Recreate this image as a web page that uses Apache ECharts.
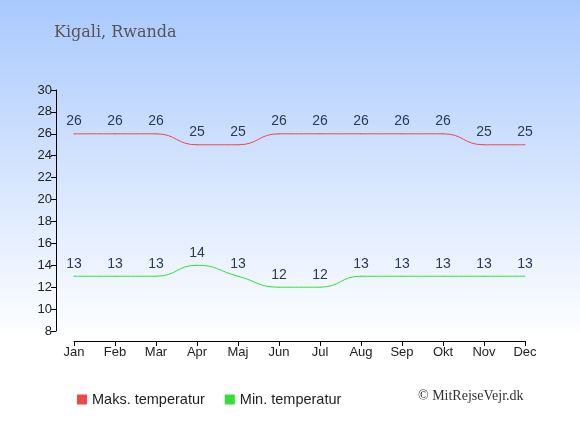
<!DOCTYPE html>
<html><head><meta charset="utf-8">
<script src="https://cdn.jsdelivr.net/npm/echarts@6/dist/echarts.min.js"></script>
<style>html,body{margin:0;padding:0;}#c{width:580px;height:435px;}</style>
</head><body><div id="c"></div>
<script>
var months = ['Jan','Feb','Mar','Apr','Maj','Jun','Jul','Aug','Sep','Okt','Nov','Dec'];
var maxTemp = [26,26,26,25,25,26,26,26,26,26,25,25];
var minTemp = [13,13,13,14,13,12,12,13,13,13,13,13];
var yTicks = [8,10,12,14,16,18,20,22,24,26,28,30];

var chart = echarts.init(document.getElementById('c'));
var labelStyle = {show:true, position:'top', distance:5, color:'#2a3a5a', fontSize:14, fontFamily:'Liberation Sans, Arial, sans-serif'};
chart.setOption({
  backgroundColor: {type:'linear', x:0, y:0, x2:0, y2:1, colorStops:[
    {offset:0, color:'#a9c9fd'}, {offset:0.78, color:'#ffffff'}, {offset:1, color:'#ffffff'}]},
  animation:false,
  title:{text:'Kigali, Rwanda', left:49, top:20, textStyle:{fontFamily:'DejaVu Serif, serif', fontWeight:'normal', fontSize:16, color:'#555555'}},
  grid:{left:74, right:55, top:90, bottom:104, containLabel:false},
  legend:{top:387, left:72, itemWidth:10, itemHeight:10, itemGap:20, icon:'rect',
    textStyle:{fontFamily:'Liberation Sans, Arial, sans-serif', fontSize:14.5, color:'#222'},
    data:['Maks. temperatur','Min. temperatur']},
  graphic:[{type:'text', left:418, top:389, style:{text:'© MitRejseVejr.dk', fontFamily:'Liberation Serif, serif', fontSize:14, fill:'#333'}}],
  xAxis:{type:'category', data:months, boundaryGap:false, offset:10,
    axisLine:{lineStyle:{color:'#000'}}, axisTick:{alignWithLabel:true, length:5, lineStyle:{color:'#000'}},
    axisLabel:{color:'#222', fontSize:13, fontFamily:'Liberation Sans, Arial, sans-serif', margin:5}},
  yAxis:{type:'value', min:8, max:30, interval:2, offset:18,
    axisLine:{show:true, lineStyle:{color:'#000'}}, axisTick:{show:true, length:5, lineStyle:{color:'#000'}},
    splitLine:{show:false},
    axisLabel:{color:'#222', fontSize:13, fontFamily:'Liberation Sans, Arial, sans-serif', margin:4,
      formatter:function(v){return yTicks.indexOf(v)>=0? String(v):'';}}},
  series:[
    {name:'Maks. temperatur', type:'line', data:maxTemp, smooth:0.5, symbol:'circle', symbolSize:1, showSymbol:true,
      color:'#f04848', itemStyle:{color:'#f04848'},
      lineStyle:{width:1, color:'#f04848'}, label:labelStyle},
    {name:'Min. temperatur', type:'line', data:minTemp, smooth:0.5, symbol:'circle', symbolSize:1, showSymbol:true,
      color:'#33e033', itemStyle:{color:'#33e033'},
      lineStyle:{width:1, color:'#33e033'}, label:labelStyle}
  ]
});
</script></body></html>
